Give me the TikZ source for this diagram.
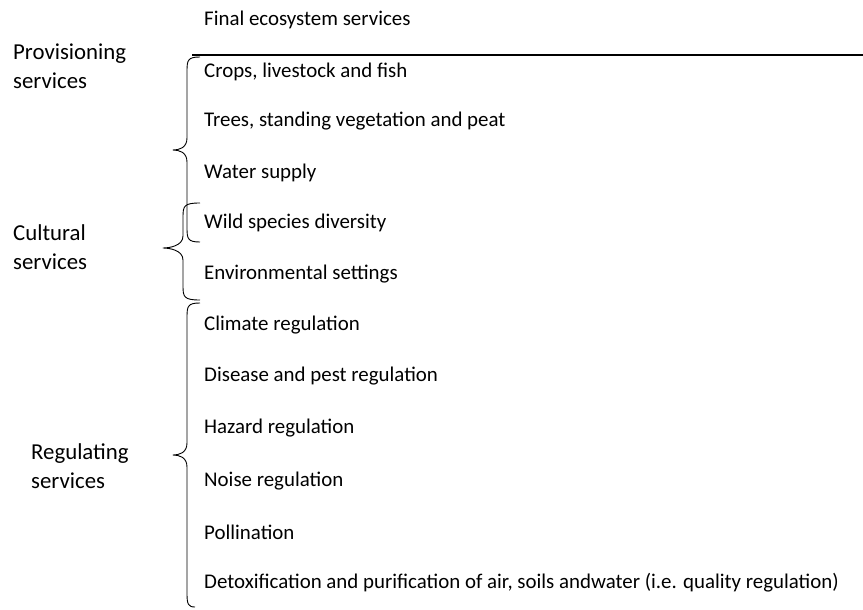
\documentclass[tikz,border=0pt]{standalone}
\usepackage{fontspec}
\setmainfont{Carlito}
\begin{document}
\begin{tikzpicture}[x=1pt,y=-1pt,
  item/.style={anchor=west,inner sep=0pt,font=\fontsize{20.9}{24}\selectfont},
  cat/.style={anchor=west,inner sep=0pt,align=left,font=\fontsize{22.8}{28.5}\selectfont},
  bracestyle/.style={line width=0.9pt,line join=round}]
\useasboundingbox (0,0) rectangle (863,610);
\newcommand{\sbrace}[7]{% xv, ytop, ybot, xhooktop, xtip, ytip, xhookbot
  \draw[bracestyle] (#4,#2) .. controls ({#1+1},#2) and (#1,{#2+3}) .. (#1,{#2+14})
    -- (#1,{#6-12}) .. controls (#1,{#6-2}) and ({#5+6},#6) .. (#5,#6)
    .. controls ({#5+6},#6) and (#1,{#6+2}) .. (#1,{#6+12})
    -- (#1,{#3-14}) .. controls (#1,{#3-3}) and ({#1+1},#3) .. (#7,#3);}
\node[item] (title) at (204,20) {Final ecosystem services};
\coordinate (hl) at (192,55);
\coordinate (hr) at (863,55);
\draw[line width=1.3pt] (hl) -- (hr);
\node[item] (i1) at (204,72) {Crops, livestock and fish};
\node[item] (i2) at (204,121) {Trees, standing vegetation and peat};
\node[item] (i3) at (204,173) {Water supply};
\node[item] (i4) at (204,223) {Wild species diversity};
\node[item] (i5) at (204,274) {Environmental settings};
\node[item] (i6) at (204,325) {Climate regulation};
\node[item] (i7) at (204,376) {Disease and pest regulation};
\node[item] (i8) at (204,428) {Hazard regulation};
\node[item] (i9) at (204,481) {Noise regulation};
\node[item] (i10) at (204,532) {Pollination};
\node[item] (i11) at (204,583) {Detoxification and purification of air, soils andwater (i.e. quality regulation)};
\node[cat] (prov) at (13,66) {Provisioning\\services};
\node[cat] (cult) at (13,247) {Cultural\\services};
\node[cat] (reg) at (31,466) {Regulating\\services};
\sbrace{187}{57}{242}{200}{173}{150}{200}
\sbrace{183}{203}{300}{200}{163}{248}{200}
\sbrace{187}{303}{607}{200}{173}{455}{195}
\end{tikzpicture}
\end{document}
